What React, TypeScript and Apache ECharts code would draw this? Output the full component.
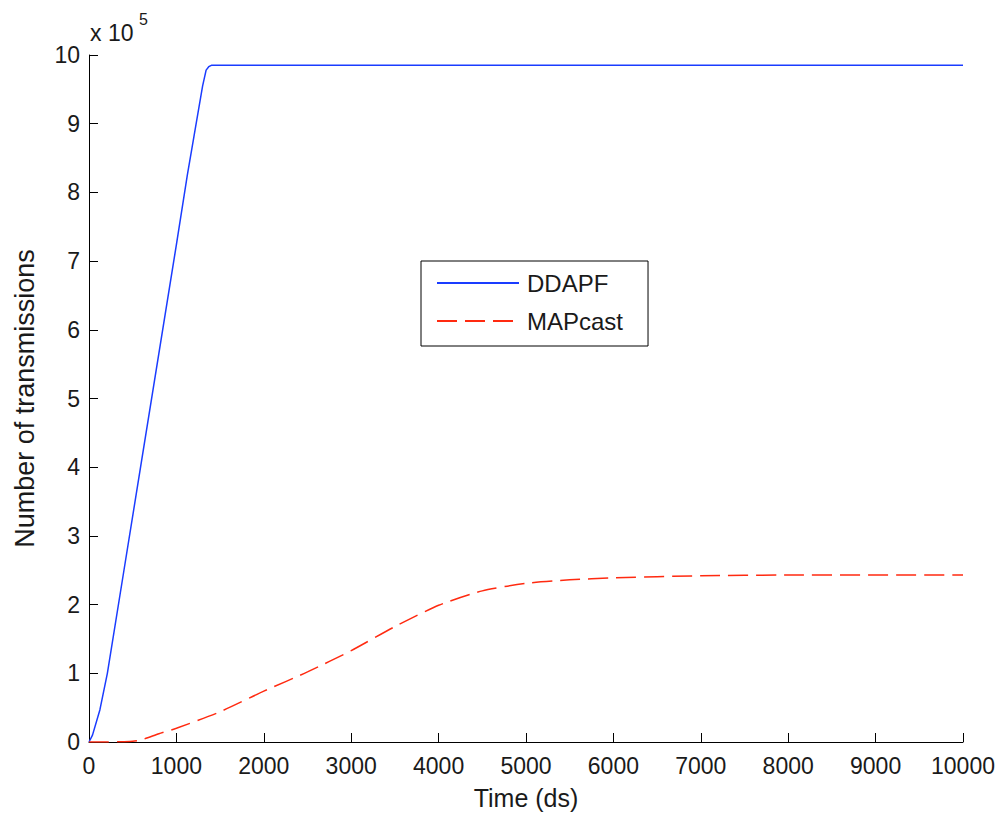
import React, { useEffect, useRef } from "react";
import * as echarts from "echarts";

// Time (ds)
const ddapfX = [0, 40, 125, 210, 400, 600, 800, 1000, 1125, 1200, 1300, 1340, 1370, 1400, 10000];
// Number of transmissions (raw)
const ddapfY = [0, 10000, 47000, 100000, 250000, 408000, 566000, 724000, 825000, 881000, 955000, 978000, 983000, 985000, 985000];

const mapX = [0, 200, 400, 500, 600, 800, 1000, 1500, 2000, 2500, 3000, 3500, 4000, 4500, 5000, 5500, 6000, 7000, 8000, 10000];
const mapY = [0, 0, 500, 1000, 3000, 12000, 20000, 44000, 74000, 102000, 133000, 168000, 199000, 220000, 231000, 236000, 239000, 242000, 243000, 243000];

const xTicks = { min: 0, max: 10000, interval: 1000 };
const yTicks = { min: 0, max: 1000000, interval: 100000 };
const yScale = 100000;
const seriesNames = ["DDAPF", "MAPcast"];

const FONT = "'Liberation Sans', Arial, sans-serif";
const TXT = "#1a1a1a";

export default function App() {
  const ref = useRef<HTMLDivElement>(null);
  useEffect(() => {
    if (!ref.current) return;
    const chart = echarts.init(ref.current, undefined, { renderer: "svg" });
    const ddapf = ddapfX.map((x, i) => [x, ddapfY[i]]);
    const mapc = mapX.map((x, i) => [x, mapY[i]]);
    chart.setOption({
      animation: false,
      backgroundColor: "#fff",
      grid: { left: 89, right: 37, top: 55, bottom: 74, outerBoundsMode: "none" },
      xAxis: {
        type: "value",
        min: xTicks.min,
        max: xTicks.max,
        interval: xTicks.interval,
        name: "Time (ds)",
        nameLocation: "middle",
        nameGap: 43,
        nameTextStyle: { fontSize: 25, fontFamily: FONT, color: TXT },
        axisLine: { show: true, lineStyle: { color: "#000", width: 1 } },
        axisTick: { show: true, inside: true, length: 9, lineStyle: { color: "#000" } },
        axisLabel: {
          fontSize: 23,
          fontFamily: FONT,
          color: TXT,
          margin: 12,
          formatter: (v: number) => String(v),
        },
        splitLine: { show: false },
      },
      yAxis: {
        type: "value",
        min: yTicks.min,
        max: yTicks.max,
        interval: yTicks.interval,
        name: "Number of transmissions",
        nameLocation: "middle",
        nameGap: 51,
        nameTextStyle: { fontSize: 27, fontFamily: FONT, color: TXT },
        axisLine: { show: true, lineStyle: { color: "#000", width: 1 } },
        axisTick: { show: true, inside: true, length: 9, lineStyle: { color: "#000" } },
        axisLabel: {
          fontSize: 23,
          fontFamily: FONT,
          color: TXT,
          margin: 9,
          formatter: (v: number) => String(Math.round(v / yScale)),
        },
        splitLine: { show: false },
      },
      legend: {
        orient: "vertical",
        left: 421,
        top: 261,
        padding: [10, 25, 13, 15],
        itemWidth: 82,
        itemHeight: 24,
        itemGap: 14,
        borderColor: "#000",
        borderWidth: 1,
        backgroundColor: "#fff",
        itemStyle: { opacity: 0, borderWidth: 0 },
        textStyle: { fontSize: 24, fontFamily: FONT, color: TXT, padding: [0, 0, 0, 3] },
        data: seriesNames,
      },
      graphic: [
        {
          type: "text",
          left: 90,
          top: 21,
          style: { text: "x 10", fontSize: 23, fontFamily: FONT, fill: TXT },
        },
        {
          type: "text",
          left: 139,
          top: 11,
          style: { text: "5", fontSize: 16, fontFamily: FONT, fill: TXT },
        },
      ],
      series: [
        {
          name: seriesNames[0],
          type: "line",
          data: ddapf,
          symbol: "none",
          lineStyle: { color: "#1a3cff", width: 1.5 },
          itemStyle: { color: "#1a3cff" },
        },
        {
          name: seriesNames[1],
          type: "line",
          data: mapc,
          symbol: "none",
          smooth: 0.2,
          lineStyle: { color: "#ff2a10", width: 1.5, type: [20, 8] },
          itemStyle: { color: "#ff2a10" },
        },
      ],
    });
    return () => chart.dispose();
  }, []);
  return (
    <div
      ref={ref}
      style={{ position: "absolute", left: 0, top: 0, width: 1000, height: 816, background: "#fff" }}
    />
  );
}
